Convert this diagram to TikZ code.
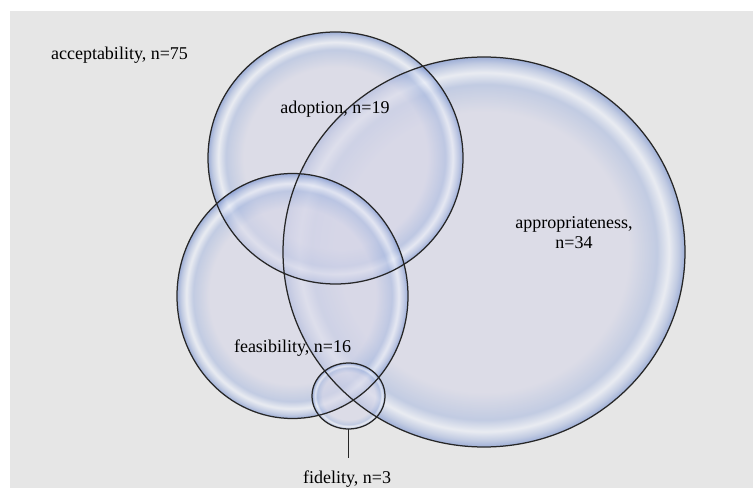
\documentclass[tikz,border=0pt]{standalone}
\usepackage{fontspec}
\setmainfont{Liberation Serif}
\usetikzlibrary{shapes.geometric}
\definecolor{bg}{RGB}{230,230,230}
\definecolor{bubin}{RGB}{214,214,232}
\definecolor{bubmid}{RGB}{170,186,224}
\definecolor{bubglint}{RGB}{236,240,250}
\definecolor{bubrim}{RGB}{110,138,205}
\pgfdeclareradialshading{bubble}{\pgfpoint{0bp}{0bp}}{color(0bp)=(bubin); color(18bp)=(bubin); color(21.5bp)=(bubmid); color(23bp)=(bubglint); color(24.2bp)=(bubmid); color(25bp)=(bubrim); color(50bp)=(bubrim)}
\begin{document}
\begin{tikzpicture}[x=1pt,y=1pt,
  bub/.style={ellipse, shading=bubble, fill opacity=0.6, inner sep=0pt, draw=none},
  outline/.style={draw=black!85, line width=1.25pt},
  lbl/.style={font=\fontsize{18}{20}\selectfont, text=black, inner sep=0pt}]
\useasboundingbox (0,0) rectangle (753,488);
\fill[white] (0,0) rectangle (753,488);
\fill[bg] (10,0) rectangle (753,477);
% bubbles
\foreach \n/\x/\y/\w/\h in {appr/484/236/402/390, ado/335.5/330/255/252, fea/292.5/192/231/245, fid/348.5/92/73/66}{
  \node[bub, minimum width=\w pt, minimum height=\h pt] (\n) at (\x,\y) {};
}
\foreach \n/\w/\h in {appr/402/390, ado/255/252, fea/231/245, fid/73/66}{
  \draw[outline] (\n.center) ellipse [x radius=\w/2, y radius=\h/2];
}
% labels
\node[lbl, anchor=base] (acc) at (119.5,428) {acceptability, n=75};
\node[lbl, anchor=base] (adol) at (335,374.7) {adoption, n=19};
\node[lbl, anchor=base, align=center] (apprl) at (574,239.7) {appropriateness,\\n=34};
\node[lbl, anchor=base] (feal) at (292.5,135.3) {feasibility, n=16};
\node[lbl, anchor=base, inner ysep=12pt] (fidl) at (347,4.7) {fidelity, n=3};
\draw[outline] (fid.south) -- (fid.south |- fidl.north);
\end{tikzpicture}
\end{document}
